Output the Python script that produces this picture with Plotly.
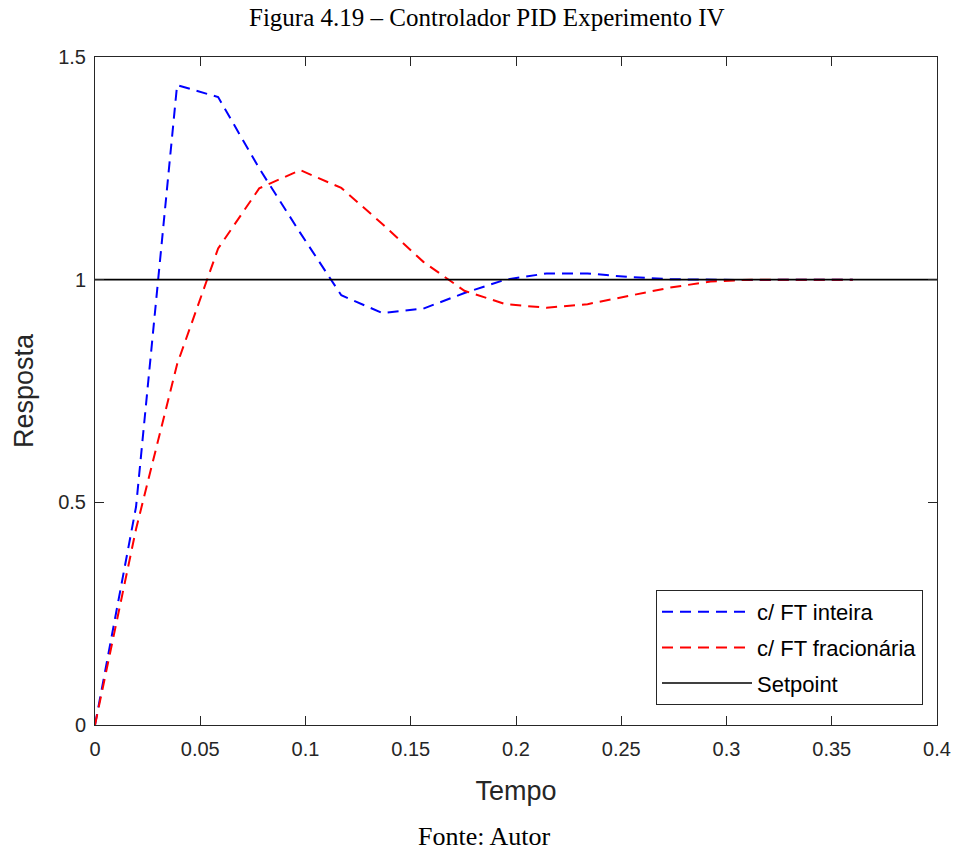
import plotly.graph_objects as go

# Data
tempo = [0, 0.0195, 0.039, 0.0585, 0.078, 0.0975, 0.117, 0.1365, 0.156, 0.1755,
         0.195, 0.2145, 0.234, 0.2535, 0.273, 0.2925, 0.312, 0.3315, 0.351, 0.36]
ft_inteira = [0, 0.49, 1.437, 1.41, 1.25, 1.105, 0.965, 0.925, 0.935, 0.97,
              1.0, 1.014, 1.014, 1.006, 1.001, 1.0, 0.999, 1.0, 1.0, 1.0]
ft_fracionaria = [0, 0.44, 0.81, 1.07, 1.205, 1.246, 1.206, 1.125, 1.04, 0.975,
                  0.945, 0.937, 0.945, 0.963, 0.982, 0.996, 1.0, 1.0, 1.0, 1.0]
setpoint_t = [0, 0.4]
setpoint_y = [1, 1]

x_ticks = [0, 0.05, 0.1, 0.15, 0.2, 0.25, 0.3, 0.35, 0.4]
x_ticktext = ["0", "0.05", "0.1", "0.15", "0.2", "0.25", "0.3", "0.35", "0.4"]
y_ticks = [0, 0.5, 1, 1.5]
y_ticktext = ["0", "0.5", "1", "1.5"]

axis_color = "#262626"
sans = "Liberation Sans, Arial, sans-serif"
serif = "Liberation Serif, Times New Roman, serif"

W, H = 953, 851
L, R, T, B = 95, 16, 57, 126

fig = go.Figure()
fig.add_trace(go.Scatter(x=tempo, y=ft_inteira, mode="lines", name="c/ FT inteira",
                         legendgroup="a",
                         line=dict(color="#0000FF", width=2, dash="11px,7px")))
fig.add_trace(go.Scatter(x=tempo, y=ft_fracionaria, mode="lines", name="c/ FT fracionária",
                         legendgroup="b",
                         line=dict(color="#FF0000", width=2, dash="11px,7px")))
fig.add_trace(go.Scatter(x=setpoint_t, y=setpoint_y, mode="lines", name="Setpoint",
                         legendgroup="c",
                         line=dict(color="#000000", width=1.6)))

axis_common = dict(
    showline=True, linecolor=axis_color, linewidth=1, mirror="ticks",
    ticks="inside", ticklen=9, tickcolor=axis_color, tickwidth=1,
    showgrid=False, zeroline=False, automargin=False,
    tickfont=dict(family=sans, size=20, color=axis_color),
)

fig.update_layout(
    width=W, height=H,
    margin=dict(l=L, r=R, t=T, b=B, autoexpand=False),
    paper_bgcolor="white", plot_bgcolor="white",
    xaxis=dict(range=[0, 0.4], tickvals=x_ticks, ticktext=x_ticktext,
               ticklabelstandoff=6,
               title=dict(text="Tempo", font=dict(family=sans, size=27, color=axis_color),
                          standoff=22),
               **axis_common),
    yaxis=dict(range=[0, 1.5], tickvals=y_ticks, ticktext=y_ticktext,
               ticklabelstandoff=4,
               title=dict(text="Resposta", font=dict(family=sans, size=27, color=axis_color),
                          standoff=16),
               **axis_common),
    legend=dict(x=(923 - L) / (W - L - R), y=(H - B - 705) / (H - T - B),
                xanchor="right", yanchor="bottom",
                bgcolor="white", bordercolor=axis_color, borderwidth=1,
                font=dict(family=sans, size=22, color="#000000"),
                itemwidth=90,
                traceorder="grouped", tracegroupgap=4),
    showlegend=True,
    annotations=[
        dict(text="Figura 4.19 – Controlador PID Experimento IV", xref="paper", yref="paper",
             x=0.5, y=1, xanchor="center", yanchor="middle",
             xshift=487 - (L + W - R) / 2, yshift=T - 17,
             showarrow=False,
             font=dict(family=serif, size=25, color="#000000")),
        dict(text="Fonte: Autor", xref="paper", yref="paper",
             x=0.5, y=0, xanchor="center", yanchor="bottom",
             xshift=484 - (L + W - R) / 2, yshift=-(B + 2),
             showarrow=False,
             font=dict(family=serif, size=26, color="#000000")),
    ],
)

fig.write_html("out.html")
